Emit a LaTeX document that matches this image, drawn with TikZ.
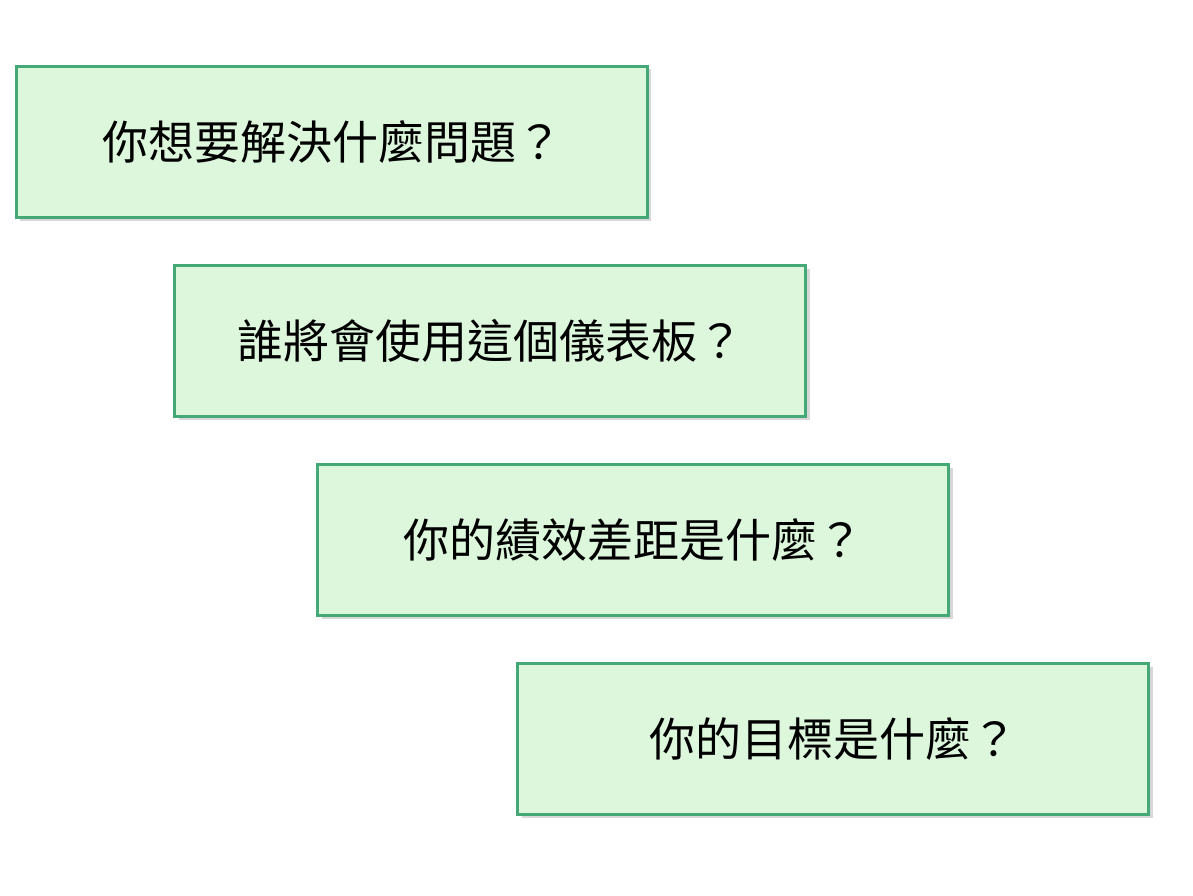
\documentclass[tikz,border=0pt]{standalone}
\usepackage{fontspec}
\newfontfamily\cjk{Noto Sans CJK TC}
\definecolor{boxfill}{HTML}{DCF7DC}
\definecolor{boxline}{HTML}{45A877}
\definecolor{shadowc}{HTML}{B0B0B0}
\begin{document}
\begin{tikzpicture}[x=1pt,y=-1pt,
  qbox/.style={draw=boxline, line width=2.8pt, fill=boxfill, minimum width=631pt, minimum height=151pt, inner sep=0pt, font=\cjk\fontsize{46}{52}\selectfont, text=black},
  qshadow/.style={fill=shadowc, opacity=0.5, minimum width=631pt, minimum height=151pt, inner sep=0pt}]
\useasboundingbox (0,0) rectangle (1193,896);
\fill[white] (0,0) rectangle (1193,896);
\node[qshadow] at (335,145) {};
\node[qshadow] at (494,344) {};
\node[qshadow] at (637,543) {};
\node[qshadow] at (837,742) {};
\node[qbox] (q1) at (332,142) {你想要解決什麼問題？};
\node[qbox] (q2) at (490,341) {誰將會使用這個儀表板？};
\node[qbox] (q3) at (633,540) {你的績效差距是什麼？};
\node[qbox] (q4) at (833,739) {你的目標是什麼？};
\end{tikzpicture}
\end{document}
